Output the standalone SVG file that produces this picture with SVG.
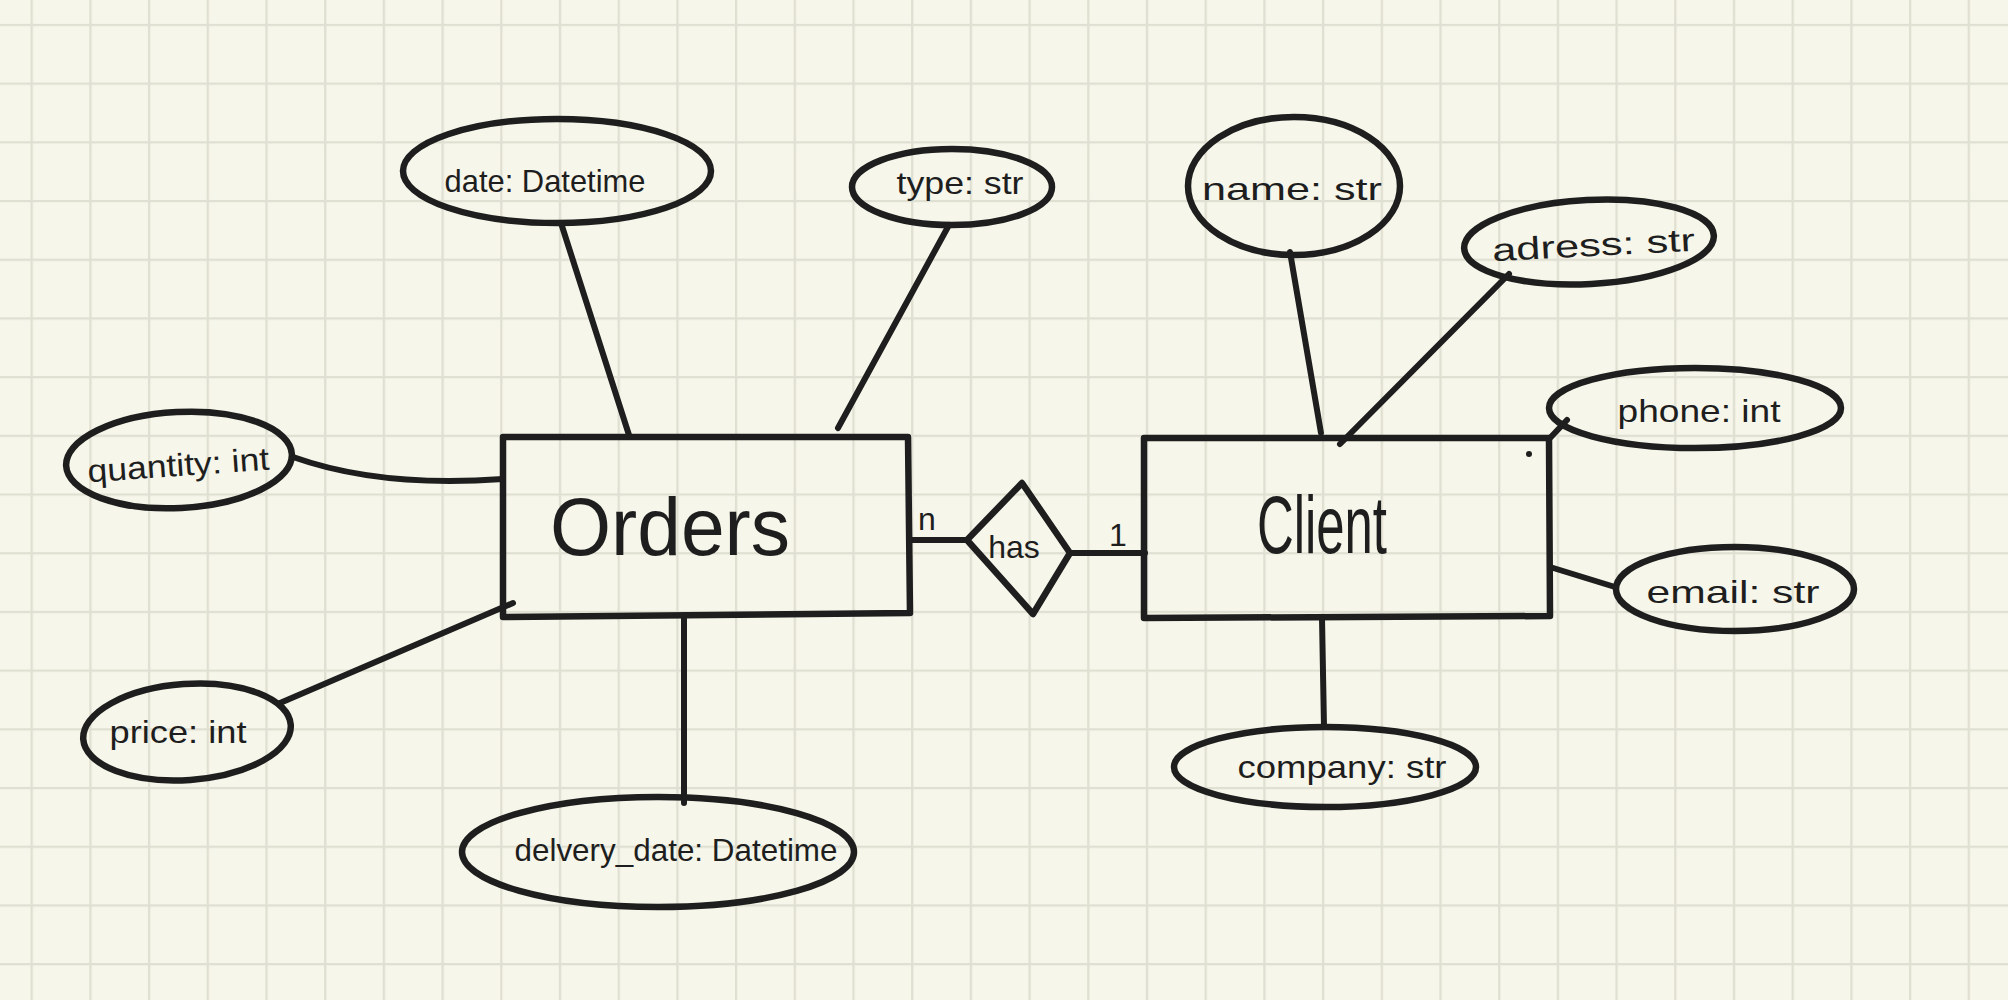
<svg xmlns="http://www.w3.org/2000/svg" width="2008" height="1000" viewBox="0 0 2008 1000">
<defs>
<pattern id="grid" patternUnits="userSpaceOnUse" x="2.7" y="-4" width="58.7" height="58.7">
<path d="M29 0V58.7M0 29H58.7" stroke="#dfdfd2" stroke-width="2.4" fill="none"/>
</pattern>
<style>
.sh{fill:none;stroke:#1e1e1e;stroke-width:6.5;stroke-linejoin:round;stroke-linecap:round}
.ln{fill:none;stroke:#1e1e1e;stroke-width:6;stroke-linecap:round}
.t{font-family:"Liberation Sans",Arial,sans-serif;fill:#1e1e1e;text-anchor:middle;font-size:32px}
.big{font-size:82px}
</style>
</defs>
<rect width="2008" height="1000" fill="#f7f6ea"/>
<rect width="2008" height="1000" fill="url(#grid)"/>

<g id="connectors">
<path class="ln" d="M561 223L629 435"/>
<path class="ln" d="M949 225L838 428"/>
<path class="ln" d="M293 457Q380 488 503 479"/>
<path class="ln" d="M280 703L513 603"/>
<path class="ln" d="M684 616V803"/>
<path class="ln" d="M909 540H967"/>
<path class="ln" d="M1070 553H1145"/>
<path class="ln" d="M1290 252L1321 433"/>
<path class="ln" d="M1509 274L1340 444"/>
<path class="ln" d="M1567 420L1550 438"/>
<path class="ln" d="M1550 567L1615 587"/>
<path class="ln" d="M1322 618L1324 727"/>
<text class="t" x="927" y="530" font-size="26">n</text>
<text class="t" x="1118" y="546" font-size="30">1</text>
</g>

<g id="orders">
<path class="sh" d="M503 437H908L910 613L503 617Z"/>
<text class="t big" x="670" y="555" textLength="240" lengthAdjust="spacingAndGlyphs">Orders</text>
</g>

<g id="client">
<path class="sh" d="M1144 438H1549L1550 616L1144 618Z"/>
<circle cx="1529" cy="454" r="3" fill="#1e1e1e"/>
<text class="t big" x="1322" y="553" textLength="130" lengthAdjust="spacingAndGlyphs">Client</text>
</g>

<g id="has">
<path class="sh" d="M967 540L1022 483L1070 553L1033 614Z"/>
<text class="t" x="1014" y="558" font-size="28">has</text>
</g>

<g id="attr-date">
<ellipse class="sh" cx="557" cy="171" rx="154" ry="52"/>
<text class="t" x="545" y="192" textLength="201" lengthAdjust="spacingAndGlyphs">date: Datetime</text>
</g>

<g id="attr-type">
<ellipse class="sh" cx="952" cy="187" rx="100" ry="38"/>
<text class="t" x="960" y="194" textLength="127" lengthAdjust="spacingAndGlyphs">type: str</text>
</g>

<g id="attr-quantity">
<ellipse class="sh" cx="179" cy="460" rx="113" ry="48" transform="rotate(-3 179 460)"/>
<text class="t" x="179" y="476" textLength="182" lengthAdjust="spacingAndGlyphs" transform="rotate(-4 179 476)">quantity: int</text>
</g>

<g id="attr-price">
<ellipse class="sh" cx="187" cy="732" rx="104" ry="48" transform="rotate(-4 187 732)"/>
<text class="t" x="178" y="743" textLength="137" lengthAdjust="spacingAndGlyphs">price: int</text>
</g>

<g id="attr-delivery">
<ellipse class="sh" cx="658" cy="852" rx="196" ry="55"/>
<text class="t" x="676" y="861" textLength="323" lengthAdjust="spacingAndGlyphs">delvery_date: Datetime</text>
</g>

<g id="attr-name">
<ellipse class="sh" cx="1294" cy="186" rx="106" ry="69"/>
<text class="t" x="1292" y="200" font-size="38" textLength="180" lengthAdjust="spacingAndGlyphs">name: str</text>
</g>

<g id="attr-adress">
<ellipse class="sh" cx="1589" cy="242" rx="125" ry="42" transform="rotate(-3 1589 242)"/>
<text class="t" x="1594" y="256" textLength="203" lengthAdjust="spacingAndGlyphs" transform="rotate(-3 1594 256)">adress: str</text>
</g>

<g id="attr-phone">
<ellipse class="sh" cx="1695" cy="408" rx="146" ry="40"/>
<text class="t" x="1699" y="422" textLength="163" lengthAdjust="spacingAndGlyphs">phone: int</text>
</g>

<g id="attr-email">
<ellipse class="sh" cx="1735" cy="589" rx="119" ry="42"/>
<text class="t" x="1733" y="603" textLength="173" lengthAdjust="spacingAndGlyphs">email: str</text>
</g>

<g id="attr-company">
<ellipse class="sh" cx="1325" cy="767" rx="151" ry="40"/>
<text class="t" x="1342" y="778" textLength="209" lengthAdjust="spacingAndGlyphs">company: str</text>
</g>
</svg>
